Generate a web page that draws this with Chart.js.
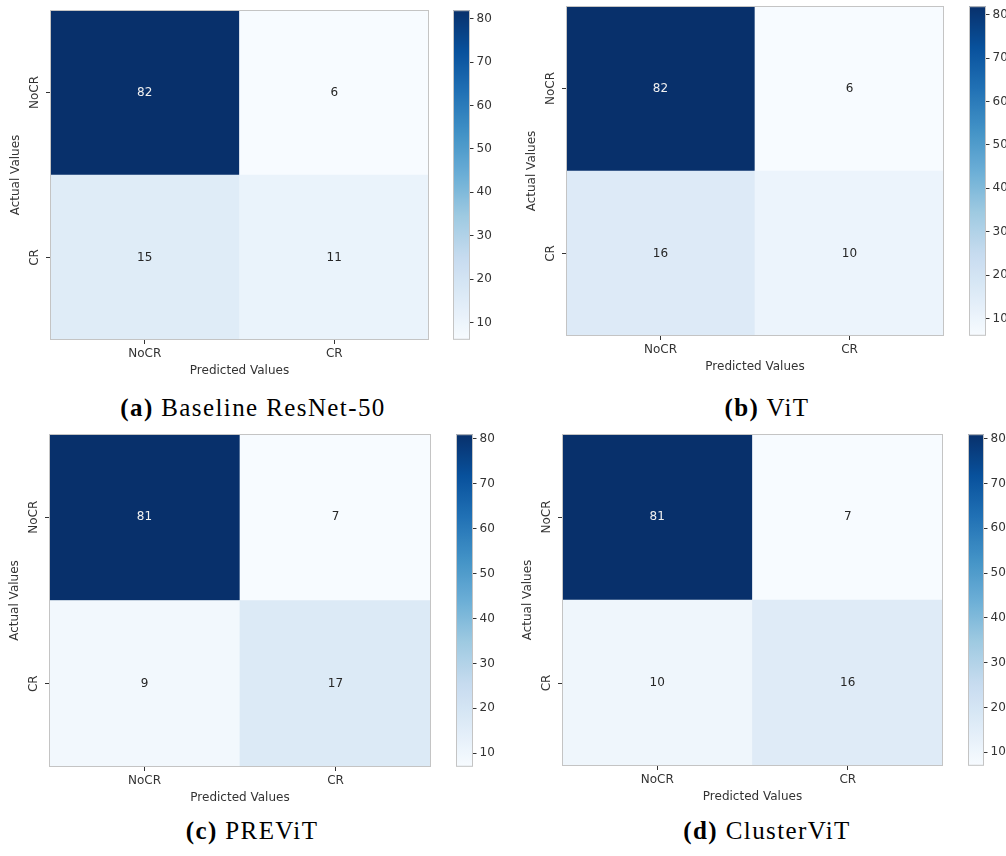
<!DOCTYPE html>
<html>
<head>
<meta charset="utf-8">
<script src="https://cdn.jsdelivr.net/npm/chart.js@4.4.0/dist/chart.umd.min.js"></script>
<style>
  html, body { margin: 0; padding: 0; background: #fff; }
  body { width: 1006px; height: 856px; overflow: hidden; position: relative; }
  canvas { position: absolute; }
  .caption {
    position: absolute;
    font-family: 'Liberation Serif', serif;
    font-size: 25px;
    line-height: 25px;
    letter-spacing: 1.4px;
    color: #000;
    white-space: nowrap;
    transform: translateX(-50%);
  }
</style>
</head>
<body>
<script>
// class names (rows = actual, columns = predicted)
const classLabels = ['NoCR', 'CR'];

// confusion matrices, one per model
const resnetCounts  = [[82, 6], [15, 11]];
const vitCounts     = [[82, 6], [16, 10]];
const previtCounts  = [[81, 7], [9, 17]];
const clusterCounts = [[81, 7], [10, 16]];

// colorbar tick labels
const colorbarTicks = [10, 20, 30, 40, 50, 60, 70, 80];

// sub-figure captions
const captionTags  = ['(a)', '(b)', '(c)', '(d)'];
const captionNames = ['Baseline ResNet-50', 'ViT', 'PREViT', 'ClusterViT'];

// matplotlib "Blues"
const blues = ['#f7fbff', '#deebf7', '#c6dbef', '#9ecae1', '#6baed6',
               '#4292c6', '#2171b5', '#08519c', '#08306b'];

const TEXT = '#333333';
const FRAME = '#c4c4c4';
const FONT = { family: "'DejaVu Sans', sans-serif", size: 12 };

function hexToRgb(h) {
    return [1, 3, 5].map(i => parseInt(h.substr(i, 2), 16));
}

function bluesColor(t) {
    t = Math.max(0, Math.min(1, t));
    const pos = t * (blues.length - 1);
    const i = Math.min(Math.floor(pos), blues.length - 2);
    const f = pos - i;
    const a = hexToRgb(blues[i]), b = hexToRgb(blues[i + 1]);
    const c = a.map((v, k) => Math.round(v + (b[k] - v) * f));
    return 'rgb(' + c.join(',') + ')';
}

// layout of the four panels: heatmap box [left, top, right, bottom],
// colorbar [left, right], caption [centerX, baseline]
const panels = [
    { counts: resnetCounts,  heat: [50, 10, 429, 340],   bar: [453, 470], cap: [253, 416] },
    { counts: vitCounts,     heat: [566, 6, 944, 336],   bar: [969, 986], cap: [767, 416] },
    { counts: previtCounts,  heat: [49, 434, 431, 767],  bar: [456, 473], cap: [252, 839] },
    { counts: clusterCounts, heat: [562, 434, 943, 766], bar: [968, 984], cap: [767, 839] }
];

// thin grey frame around the plot area
const framePlugin = {
    id: 'frame',
    afterDraw(chart) {
        const { ctx, chartArea: a } = chart;
        ctx.save();
        ctx.strokeStyle = FRAME;
        ctx.lineWidth = 1;
        ctx.strokeRect(a.left + 0.5, a.top + 0.5, a.right - a.left - 1, a.bottom - a.top - 1);
        ctx.restore();
    }
};

// cell value annotations
const annotatePlugin = {
    id: 'annotate',
    afterDatasetsDraw(chart) {
        const { ctx } = chart;
        ctx.save();
        ctx.font = FONT.size + 'px ' + FONT.family;
        ctx.textAlign = 'center';
        ctx.textBaseline = 'middle';
        chart.data.datasets.forEach((ds, i) => {
            chart.getDatasetMeta(i).data.forEach((bar, j) => {
                const v = ds.counts[j];
                const t = (v - ds.vmin) / (ds.vmax - ds.vmin);
                ctx.fillStyle = t > 0.6 ? '#f0f0f0' : '#262626';
                ctx.fillText(String(v), bar.x, (bar.y + bar.base) / 2);
            });
        });
        ctx.restore();
    }
};

function makeCanvas(left, top, width, height) {
    const c = document.createElement('canvas');
    c.width = width;
    c.height = height;
    c.style.left = left + 'px';
    c.style.top = top + 'px';
    c.style.width = width + 'px';
    c.style.height = height + 'px';
    document.body.appendChild(c);
    return c;
}

function drawHeatmap(p) {
    const [L, T, R, B] = p.heat;
    const left = L - 50, top = T - 10;
    const canvas = makeCanvas(left, top, R - left + 10, B - top + 45);
    const flat = p.counts.flat();
    const vmin = Math.min(...flat), vmax = Math.max(...flat);

    // stacked from the bottom: CR row first, NoCR row on top
    const datasets = [1, 0].map(r => ({
        label: classLabels[r],
        data: classLabels.map(() => 1),
        counts: p.counts[r],
        vmin: vmin,
        vmax: vmax,
        backgroundColor: p.counts[r].map(v => bluesColor((v - vmin) / (vmax - vmin))),
        borderWidth: 0,
        barPercentage: 1,
        categoryPercentage: 1
    }));

    new Chart(canvas, {
        type: 'bar',
        data: { labels: classLabels, datasets: datasets },
        options: {
            responsive: false,
            animation: false,
            layout: { padding: { top: 10, right: 10, left: 0, bottom: 0 } },
            plugins: { legend: { display: false }, tooltip: { enabled: false } },
            scales: {
                x: {
                    stacked: true,
                    grid: { offset: false, drawOnChartArea: false, tickLength: 4, tickColor: TEXT },
                    border: { display: false },
                    ticks: { color: TEXT, font: FONT, padding: 3, maxRotation: 0 },
                    title: { display: true, text: 'Predicted Values', color: TEXT, font: FONT,
                             padding: { top: 0, bottom: 7.3 } },
                    afterFit: s => { s.height = 45; }
                },
                y: {
                    type: 'linear',
                    stacked: true,
                    min: 0,
                    max: 2,
                    afterBuildTicks: s => { s.ticks = [{ value: 0.5 }, { value: 1.5 }]; },
                    grid: { drawOnChartArea: false, tickLength: 4, tickColor: TEXT },
                    border: { display: false },
                    ticks: {
                        color: TEXT, font: FONT,
                        callback: v => classLabels[v < 1 ? 1 : 0],
                        minRotation: 90, maxRotation: 90,
                        crossAlign: 'center', padding: -5.5
                    },
                    title: { display: true, text: 'Actual Values', color: TEXT, font: FONT,
                             padding: { top: 8.3, bottom: 0 } },
                    afterFit: s => { s.width = 50; }
                }
            }
        },
        plugins: [framePlugin, annotatePlugin]
    });
}

function drawColorbar(p) {
    const [cl, cr] = p.bar;
    const T = p.heat[1], B = p.heat[3];
    const canvas = makeCanvas(cl, T - 10, cr - cl + 40, B - T + 20);
    const flat = p.counts.flat();
    const vmin = Math.min(...flat), vmax = Math.max(...flat);

    new Chart(canvas, {
        type: 'bar',
        data: {
            labels: [''],
            datasets: [{
                data: [[vmin, vmax]],
                backgroundColor: ctx => {
                    const a = ctx.chart.chartArea;
                    if (!a) return blues[0];
                    const g = ctx.chart.ctx.createLinearGradient(0, a.bottom, 0, a.top);
                    const n = 40;
                    for (let k = 0; k <= n; k++) g.addColorStop(k / n, bluesColor(k / n));
                    return g;
                },
                borderWidth: 0,
                barPercentage: 1,
                categoryPercentage: 1
            }]
        },
        options: {
            responsive: false,
            animation: false,
            layout: { padding: { top: 10, bottom: 10, left: 0, right: 0 } },
            plugins: { legend: { display: false }, tooltip: { enabled: false } },
            scales: {
                x: { display: false },
                y: {
                    position: 'right',
                    min: vmin,
                    max: vmax,
                    afterBuildTicks: s => { s.ticks = colorbarTicks.map(v => ({ value: v })); },
                    grid: { drawOnChartArea: false, tickLength: 3.5, tickColor: TEXT },
                    border: { display: false },
                    ticks: { color: TEXT, font: FONT, padding: 3 },
                    afterFit: s => { s.width = 40; }
                }
            }
        },
        plugins: [framePlugin]
    });
}

function drawCaption(i) {
    const [cx, base] = panels[i].cap;
    const d = document.createElement('div');
    d.className = 'caption';
    d.style.left = cx + 'px';
    d.style.top = (base - 21) + 'px';
    d.innerHTML = '<b>' + captionTags[i] + '</b> ' + captionNames[i];
    document.body.appendChild(d);
}

panels.forEach((p, i) => {
    drawHeatmap(p);
    drawColorbar(p);
    drawCaption(i);
});
</script>
</body>
</html>
